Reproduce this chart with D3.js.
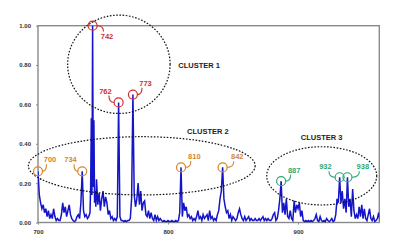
<!DOCTYPE html>
<html><head><meta charset="utf-8">
<script src="https://cdn.jsdelivr.net/npm/d3@7"></script>
<style>
html,body{margin:0;padding:0;background:#fff;}
svg{display:block;font-family:"Liberation Sans",Arial,sans-serif;}
</style></head>
<body><svg id="c" width="400" height="249"></svg>
<script>
// ---- data ----
const wavenumbers = [
700,701,702,703,704,705,706,707,708,709,710,711,712,713,714,715,716,717,718,719,
720,721,722,723,724,725,726,727,728,729,730,731,732,733,734,735,736,737,738,739,
740,740.5,741,741.5,742,742.5,743,743.5,744,744.5,745,746,747,748,749,750,751,752,753,754,
755,756,757,758,759,760,761,762,763,764,765,766,767,768,769,770,771,772,773,774,
775,776,777,778,779,780,781,782,783,784,785,786,787,788,789,790,791,792,793,794,
795,796,797,798,799,800,801,802,803,804,805,806,807,808,809,810,811,812,813,814,
815,816,817,818,819,820,821,822,823,824,825,826,827,828,829,830,831,832,833,834,
835,836,837,838,839,840,841,842,843,844,845,846,847,848,849,850,851,852,853,854,
855,856,857,858,859,860,861,862,863,864,865,866,867,868,869,870,871,872,873,874,
875,876,877,878,879,880,881,882,883,884,885,886,887,888,889,890,891,892,893,894,
895,896,897,898,899,900,901,902,903,904,905,906,907,908,909,910,911,912,913,914,
915,916,917,918,919,920,921,922,923,924,925,926,927,928,929,930,931,932,933,934,
935,936,937,938,939,940,941,942,943,944,945,946,947,948,949,950,951,952,953,954,
955,956,957,958,959,960,961,962,963];
const intensity = [
0.26,0.14,0.10,0.07,0.09,0.05,0.07,0.03,0.06,0.02,0.04,0.02,0.07,0.03,0.01,0.02,0.01,0.01,0.04,0.10,
0.05,0.08,0.03,0.06,0.09,0.04,0.02,0.01,0.005,0.01,0.03,0.04,0.02,0.10,0.26,0.06,0.03,0.04,0.02,0.03,
0.05,0.18,0.53,0.14,1.00,0.18,0.52,0.10,0.16,0.08,0.22,0.09,0.15,0.06,0.12,0.16,0.08,0.13,0.10,0.04,
0.06,0.02,0.03,0.01,0.02,0.01,0.03,0.61,0.03,0.01,0.01,0.005,0.01,0.005,0.01,0.01,0.02,0.12,0.65,0.14,
0.08,0.12,0.20,0.09,0.16,0.06,0.10,0.11,0.04,0.03,0.06,0.02,0.05,0.02,0.01,0.04,0.01,0.03,0.01,0.02,
0.01,0.005,0.01,0.005,0.005,0.01,0.005,0.005,0.01,0.005,0.005,0.01,0.005,0.01,0.05,0.28,0.03,0.10,0.06,0.08,
0.03,0.04,0.02,0.03,0.01,0.02,0.01,0.03,0.06,0.02,0.03,0.01,0.04,0.02,0.03,0.04,0.01,0.06,0.02,0.03,
0.01,0.02,0.01,0.04,0.06,0.12,0.16,0.28,0.12,0.08,0.05,0.06,0.02,0.04,0.01,0.03,0.02,0.01,0.02,0.05,
0.07,0.04,0.02,0.01,0.03,0.01,0.02,0.03,0.01,0.02,0.01,0.01,0.02,0.01,0.01,0.02,0.01,0.02,0.03,0.01,
0.02,0.01,0.02,0.01,0.01,0.02,0.04,0.05,0.01,0.02,0.06,0.12,0.21,0.05,0.10,0.04,0.12,0.03,0.02,0.06,
0.02,0.01,0.11,0.05,0.09,0.07,0.10,0.03,0.06,0.01,0.005,0.01,0.005,0.01,0.005,0.01,0.005,0.01,0.02,0.04,
0.01,0.005,0.03,0.01,0.005,0.01,0.005,0.02,0.01,0.005,0.01,0.02,0.005,0.01,0.04,0.12,0.10,0.23,0.10,0.16,
0.07,0.12,0.05,0.23,0.08,0.12,0.03,0.17,0.06,0.02,0.04,0.02,0.08,0.03,0.09,0.02,0.07,0.02,0.01,0.04,
0.07,0.02,0.01,0.03,0.005,0.01,0.02,0.05,0.01];

const yTicks = [0, 0.2, 0.4, 0.6, 0.8, 1.0];
const xTicks = [700, 800, 900];

const peakWavenumbers = [700, 734, 742, 762, 773, 810, 842, 887, 932, 938];
const peakLabels = ["700", "734", "742", "762", "773", "810", "842", "887", "932", "938"];
const peakCluster = [2, 2, 1, 1, 1, 2, 2, 3, 3, 3];

const clusterNames = ["CLUSTER 1", "CLUSTER 2", "CLUSTER 3"];
// ellipse centre (wavenumber, intensity) and radii (wavenumber units, intensity units)
const clusterCx = [762.2, 779.8, 918.2];
const clusterCy = [0.804, 0.288, 0.237];
const clusterRx = [39.4, 87.2, 42.3];
const clusterRy = [0.25, 0.148, 0.148];
// cluster title anchor (wavenumber, intensity) - left edge of text
const clusterTx = [807.9, 814.6, 902.1];
const clusterTy = [0.797, 0.463, 0.433];

// ---- layout / style ----
const clusterColor = {1: "#d0302e", 2: "#d4862a", 3: "#2fa874"};
// label offset from circle centre (px)
const labelOffset = {
  700: [12, -11.5], 734: [-11.7, -11.5], 742: [14.4, 10.3], 762: [-13.2, -11.4],
  773: [12.6, -11.3], 810: [13.3, -11], 842: [14.6, -10.7], 887: [13, -11],
  932: [-14.2, -10.5], 938: [15.4, -10.5]
};

const svg = d3.select("#c");
const x = d3.scaleLinear().domain([700, 962.5]).range([38, 379.3]);
const y = d3.scaleLinear().domain([0, 1]).range([222.5, 25.7]);

// frame
svg.append("rect").attr("x", x(700)).attr("y", y(1)).attr("width", x(962.5) - x(700))
  .attr("height", y(0) - y(1)).attr("fill", "none").attr("stroke", "#8a8a8a").attr("stroke-width", 1.4);

// axes
const yAxis = svg.append("g").attr("transform", `translate(${x(700)},0)`)
  .call(d3.axisLeft(y).tickValues(yTicks).tickFormat(d3.format(".2f")).tickSize(2).tickPadding(5));
const xAxis = svg.append("g").attr("transform", `translate(0,${y(0)})`)
  .call(d3.axisBottom(x).tickValues(xTicks).tickFormat(d3.format("d")).tickSize(2).tickPadding(5));
[yAxis, xAxis].forEach(g => {
  g.select(".domain").remove();
  g.selectAll(".tick line").attr("stroke", "#8a8a8a");
  g.selectAll(".tick text").attr("font-size", 6).attr("font-weight", "bold").attr("fill", "#333")
    .attr("font-family", "'Liberation Sans',Arial,sans-serif");
});

// spectrum
svg.append("defs").append("clipPath").attr("id", "clip").append("rect")
  .attr("x", x(700)).attr("y", 0).attr("width", x(962.5) - x(700)).attr("height", y(0) + 1);
const line = d3.line().x((d, i) => x(wavenumbers[i])).y(d => y(d));
svg.append("path").datum(intensity).attr("clip-path", "url(#clip)")
  .attr("d", line).attr("fill", "none").attr("stroke", "#1414c8").attr("stroke-width", 1.5)
  .attr("stroke-linejoin", "miter");

// cluster ellipses
clusterNames.forEach((name, i) => {
  svg.append("ellipse")
    .attr("cx", x(clusterCx[i])).attr("cy", y(clusterCy[i]))
    .attr("rx", x(clusterCx[i] + clusterRx[i]) - x(clusterCx[i]))
    .attr("ry", y(0) - y(clusterRy[i]))
    .attr("fill", "none").attr("stroke", "#111").attr("stroke-width", 1.2)
    .attr("stroke-dasharray", "1.6 1.6");
  svg.append("text").attr("x", x(clusterTx[i])).attr("y", y(clusterTy[i])).attr("dy", "0.35em")
    .attr("font-size", 7.5).attr("font-weight", "bold").attr("fill", "#222").text(name);
});

// peak markers
const r = 4.5;
peakWavenumbers.forEach((w, i) => {
  const idx = wavenumbers.indexOf(w);
  const cx = x(w), cy = y(intensity[idx]);
  const col = clusterColor[peakCluster[i]];
  const [dx, dy] = labelOffset[w];
  const lx = cx + dx, ly = cy + dy;
  const sx = Math.sign(dx), sy = Math.sign(dy);
  const s = [cx + sx * r, cy];
  const e = [lx - sx * 3.5, ly - sy * 4.5];
  const c = [e[0], s[1]];
  svg.append("path").attr("d", `M${s[0]},${s[1]}Q${c[0]},${c[1]} ${e[0]},${e[1]}`)
    .attr("fill", "none").attr("stroke", col).attr("stroke-width", 1.1);
  svg.append("circle").attr("cx", cx).attr("cy", cy).attr("r", r)
    .attr("fill", "none").attr("stroke", col).attr("stroke-width", 1.2);
  svg.append("text").attr("x", lx).attr("y", ly).attr("dy", "0.35em").attr("text-anchor", "middle")
    .attr("font-size", 7.5).attr("font-weight", "bold").attr("fill", col).text(peakLabels[i]);
});
</script>
</body></html>
